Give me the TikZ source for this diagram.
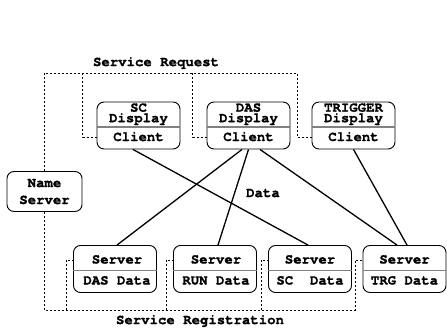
\documentclass[tikz,border=0pt]{standalone}
\usepackage{fontspec}
\setmonofont{texgyrecursor-regular.otf}[BoldFont=texgyrecursor-bold.otf, BoldFeatures={FakeBold=1.2}]
\usepackage{tikz}
\usetikzlibrary{positioning,calc}

\tikzset{
  unit/.style={draw, rounded corners=7pt, minimum width=83pt, minimum height=47pt, inner sep=0pt, line width=0.9pt},
  txt/.style={font=\ttfamily\bfseries\fontsize{14}{16}\selectfont, inner sep=0pt, anchor=base},
  divider/.style={gray, line width=1.3pt},
  datalink/.style={line width=1.3pt},
  dim/.style={dash pattern=on 2pt off 2pt, line width=0.9pt}
}

\begin{document}
\begin{tikzpicture}[x=1pt,y=1pt]
    \useasboundingbox (0,0) rectangle (447,330);

    % Name server
    \node[unit, minimum width=75pt, minimum height=40pt] (ns) at (44.5,138.5) {};
    \node[txt] (nsa) at ([yshift=4.5pt]ns.center) {Name};
    \node[txt] (nsb) at ([yshift=-12.5pt]ns.center) {Server};

    % Display clients
    \node[unit] (scc) at (138.5,204.5) {};
    \node[txt] (scc1) at ([yshift=13.8pt]scc.center) {SC};
    \node[txt] (scc2) at ([yshift=3.3pt]scc.center) {Display};
    \node[txt] (scc3) at ([yshift=-15.5pt]scc.center) {Client};
    \draw[divider] ([yshift=-1.5pt]scc.west) -- ([yshift=-1.5pt]scc.east);

    \node[unit] (dac) at (248.5,204.5) {};
    \node[txt] (dac1) at ([yshift=13.8pt]dac.center) {DAS};
    \node[txt] (dac2) at ([yshift=3.3pt]dac.center) {Display};
    \node[txt] (dac3) at ([yshift=-15.5pt]dac.center) {Client};
    \draw[divider] ([yshift=-1.5pt]dac.west) -- ([yshift=-1.5pt]dac.east);

    \node[unit] (trc) at (353.5,204.5) {};
    \node[txt] (trc1) at ([yshift=13.8pt]trc.center) {TRIGGER};
    \node[txt] (trc2) at ([yshift=3.3pt]trc.center) {Display};
    \node[txt] (trc3) at ([yshift=-15.5pt]trc.center) {Client};
    \draw[divider] ([yshift=-1.5pt]trc.west) -- ([yshift=-1.5pt]trc.east);

    % Data servers
    \node[unit] (dasd) at (115,61) {};
    \node[txt] (dasd1) at ([xshift=2pt,yshift=5.5pt]dasd.center) {Server};
    \node[txt] (dasd2) at ([xshift=2pt,yshift=-15.5pt]dasd.center) {DAS Data};
    \draw[divider] ([yshift=-1.5pt]dasd.west) -- ([yshift=-1.5pt]dasd.east);

    \node[unit] (rund) at (215,61) {};
    \node[txt] (rund1) at ([xshift=1pt,yshift=5.5pt]rund.center) {Server};
    \node[txt] (rund2) at ([xshift=1pt,yshift=-15.5pt]rund.center) {RUN Data};
    \draw[divider] ([yshift=-1.5pt]rund.west) -- ([yshift=-1.5pt]rund.east);

    \node[unit] (scd) at (310,61) {};
    \node[txt] (scd1) at ([yshift=5.5pt]scd.center) {Server};
    \node[txt] (scd2) at ([yshift=-15.5pt]scd.center) {SC\ \ Data};
    \draw[divider] ([yshift=-1.5pt]scd.west) -- ([yshift=-1.5pt]scd.east);

    \node[unit] (trd) at (404.5,61) {};
    \node[txt] (trd1) at ([yshift=5.5pt]trd.center) {Server};
    \node[txt] (trd2) at ([yshift=-15.5pt]trd.center) {TRG Data};
    \draw[divider] ([yshift=-1.5pt]trd.west) -- ([yshift=-1.5pt]trd.east);

    % Data links
    \draw[datalink] ([xshift=-5.5pt]scc.south) -- ([xshift=-2pt]scd.north);
    \draw[datalink] ([xshift=-6.5pt]dac.south) -- ([xshift=2pt]dasd.north);
    \draw[datalink] (dac.south) -- ([xshift=3pt]rund.north);
    \draw[datalink] ([xshift=11.5pt]dac.south) -- ([xshift=-7.5pt]trd.north);
    \draw[datalink] (trc.south) -- ([xshift=2.5pt]trd.north);

    % Service request
    \coordinate (rq) at (45,257);
    \draw[dim] (ns.north) |- ([xshift=-14pt]trc.west |- rq) -- ([xshift=-14pt,yshift=-11.5pt]trc.west) -- ([yshift=-11.5pt]trc.west);
    \draw[dim] ([xshift=-14pt]scc.west |- rq) -- ([xshift=-14pt,yshift=-11.5pt]scc.west) -- ([yshift=-11.5pt]scc.west);
    \draw[dim] ([xshift=-14pt]dac.west |- rq) -- ([xshift=-14pt,yshift=-11.5pt]dac.west) -- ([yshift=-11.5pt]dac.west);

    % Service registration
    \coordinate (rg) at (45,20);
    \draw[dim] (ns.south) |- ([xshift=-7pt]trd.west |- rg) -- ([xshift=-7pt,yshift=9pt]trd.west) -- ([yshift=9pt]trd.west);
    \draw[dim] ([xshift=-7pt]dasd.west |- rg) -- ([xshift=-7pt,yshift=9pt]dasd.west) -- ([yshift=9pt]dasd.west);
    \draw[dim] ([xshift=-7pt]rund.west |- rg) -- ([xshift=-7pt,yshift=9pt]rund.west) -- ([yshift=9pt]rund.west);
    \draw[dim] ([xshift=-7pt]scd.west |- rg) -- ([xshift=-7pt,yshift=9pt]scd.west) -- ([yshift=9pt]scd.west);

    % Labels
    \node[txt, anchor=center] (req) at (156,267) {Service Request};
    \node[txt, anchor=center] (reg) at (200,9) {Service Registration};
    \node[txt, anchor=center] (dat) at (263,137) {Data};
\end{tikzpicture}
\end{document}
